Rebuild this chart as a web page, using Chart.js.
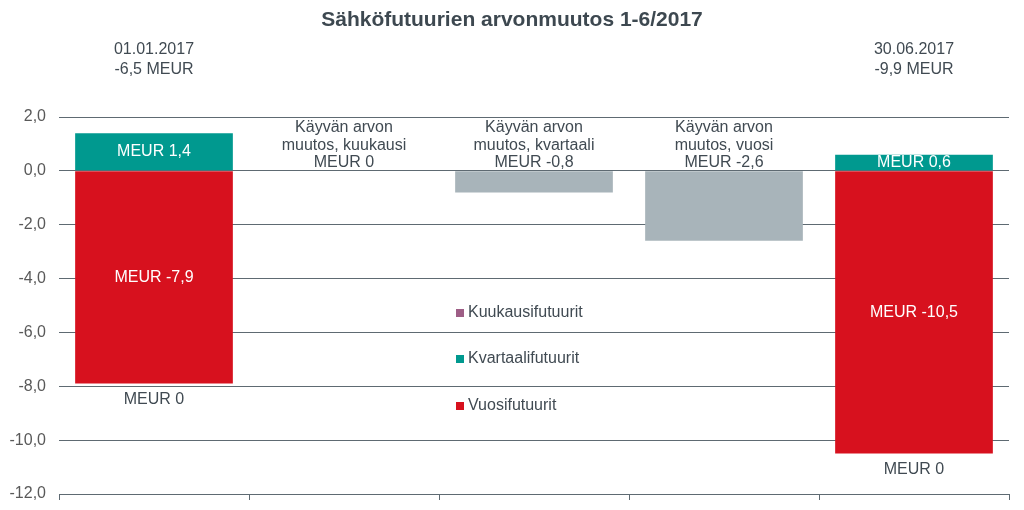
<!DOCTYPE html>
<html>
<head>
<meta charset="utf-8">
<script src="https://cdn.jsdelivr.net/npm/chart.js@4"></script>
<style>
  html, body { margin: 0; padding: 0; background: #fff; }
  #wrap { width: 1024px; height: 510px; }
</style>
</head>
<body>
<div id="wrap"><canvas id="myChart" width="1024" height="510"></canvas></div>
<script>
// data
const chartTitle = "Sähköfutuurien arvonmuutos 1-6/2017";
const categories = ["01.01.2017", "Käyvän arvon muutos, kuukausi", "Käyvän arvon muutos, kvartaali", "Käyvän arvon muutos, vuosi", "30.06.2017"];
const catLines = [
  ["01.01.2017", "-6,5 MEUR"],
  ["Käyvän arvon", "muutos, kuukausi"],
  ["Käyvän arvon", "muutos, kvartaali"],
  ["Käyvän arvon", "muutos, vuosi"],
  ["30.06.2017", "-9,9 MEUR"],
];
const seriesNames = ["Kuukausifutuurit", "Kvartaalifutuurit", "Vuosifutuurit", "Käyvän arvon muutos"];
const monthly = [0, null, null, null, 0];
const quarterly = [1.4, null, null, null, 0.6];
const yearly = [-7.9, null, null, null, -10.5];
const change = [null, 0, -0.8, -2.6, null];
const yTicks = [2, 0, -2, -4, -6, -8, -10, -12];

const FONT = "'Liberation Sans', Arial, sans-serif";
const TEXT = "#404a52";
const GRID = "#5e6a72";

function fmt(v) {
  if (v === 0) return "0";
  return v.toFixed(1).replace(".", ",");
}

// labels, legend, title and date notes
const labelPlugin = {
  id: "labels",
  afterDatasetsDraw(chart) {
    const ctx = chart.ctx;
    const ca = chart.chartArea;
    const y = chart.scales.y;
    ctx.save();
    ctx.font = "16px " + FONT;
    ctx.textAlign = "center";
    ctx.textBaseline = "middle";

    // values inside the bars
    [1, 2].forEach((di) => {
      const meta = chart.getDatasetMeta(di);
      meta.data.forEach((bar, i) => {
        const v = chart.data.datasets[di].data[i];
        if (v == null) return;
        ctx.fillStyle = "#ffffff";
        ctx.fillText("MEUR " + fmt(v), bar.x, (bar.y + bar.base) / 2);
      });
    });

    // monthly futures: zero, printed under the stack
    const mMeta = chart.getDatasetMeta(0);
    mMeta.data.forEach((bar, i) => {
      if (monthly[i] == null) return;
      const bottom = y.getPixelForValue(yearly[i] || 0);
      ctx.fillStyle = TEXT;
      ctx.fillText("MEUR " + fmt(monthly[i]), bar.x, bottom + 16);
    });

    // change bars: category text above the zero line
    const cMeta = chart.getDatasetMeta(3);
    cMeta.data.forEach((bar, i) => {
      if (change[i] == null) return;
      const zero = y.getPixelForValue(0);
      const lines = catLines[i].concat(["MEUR " + fmt(change[i])]);
      ctx.fillStyle = TEXT;
      lines.forEach((t, k) => {
        ctx.fillText(t, bar.x, zero - 8 - (lines.length - 1 - k) * 17.5);
      });
    });

    // dates and totals above the first and last column
    const x = chart.scales.x;
    [0, 4].forEach((i) => {
      const cx = x.getPixelForValue(i);
      ctx.fillStyle = TEXT;
      ctx.fillText(catLines[i][0], cx, 50);
      ctx.fillText(catLines[i][1], cx, 70);
    });

    // legend in the middle of the plot
    for (let k = 0; k < 3; k++) {
      const ly = [313, 359, 406][k];
      ctx.fillStyle = chart.data.datasets[k].backgroundColor;
      ctx.fillRect(ca.left + 397, ly - 4, 8, 8);
      ctx.fillStyle = TEXT;
      ctx.textAlign = "left";
      ctx.fillText(seriesNames[k], ca.left + 409, ly);
      ctx.textAlign = "center";
    }

    // title
    ctx.font = "bold 21px " + FONT;
    ctx.fillStyle = "#3d4850";
    ctx.fillText(chartTitle, 512, 20);
    ctx.restore();
  },
};

const data = {
  labels: categories,
  datasets: [
    { label: seriesNames[0], data: monthly, backgroundColor: "#9e5e86" },
    { label: seriesNames[1], data: quarterly, backgroundColor: "#00998f" },
    { label: seriesNames[2], data: yearly, backgroundColor: "#d7111e" },
    { label: seriesNames[3], data: change, backgroundColor: "#a8b4ba" },
  ],
};

const config = {
  type: "bar",
  data: data,
  options: {
    responsive: false,
    animation: false,
    categoryPercentage: 1,
    barPercentage: 0.83,
    layout: { padding: { top: 117, right: 15, left: 0, bottom: 0 } },
    plugins: {
      legend: { display: false },
      tooltip: { enabled: false },
      title: { display: false },
    },
    scales: {
      x: {
        stacked: true,
        ticks: { display: false },
        grid: { display: true, drawOnChartArea: false, offset: true, color: GRID, tickLength: 6 },
        border: { display: true, color: GRID },
        afterFit: (s) => { s.height = 16; },
      },
      y: {
        stacked: true,
        min: -12,
        max: 2,
        afterBuildTicks: (s) => { s.ticks = yTicks.map((v) => ({ value: v })); },
        ticks: {
          color: "#595959",
          font: { family: FONT, size: 16 },
          padding: 13,
          callback: (v) => fmt(v) === "0" ? "0,0" : fmt(v),
        },
        grid: { color: GRID, drawTicks: false },
        border: { display: false },
        afterFit: (s) => { s.width = 59; s.paddingBottom = 0; },
      },
    },
  },
  plugins: [labelPlugin],
};

const myChart = new Chart(document.getElementById("myChart"), config);
</script>
</body>
</html>
